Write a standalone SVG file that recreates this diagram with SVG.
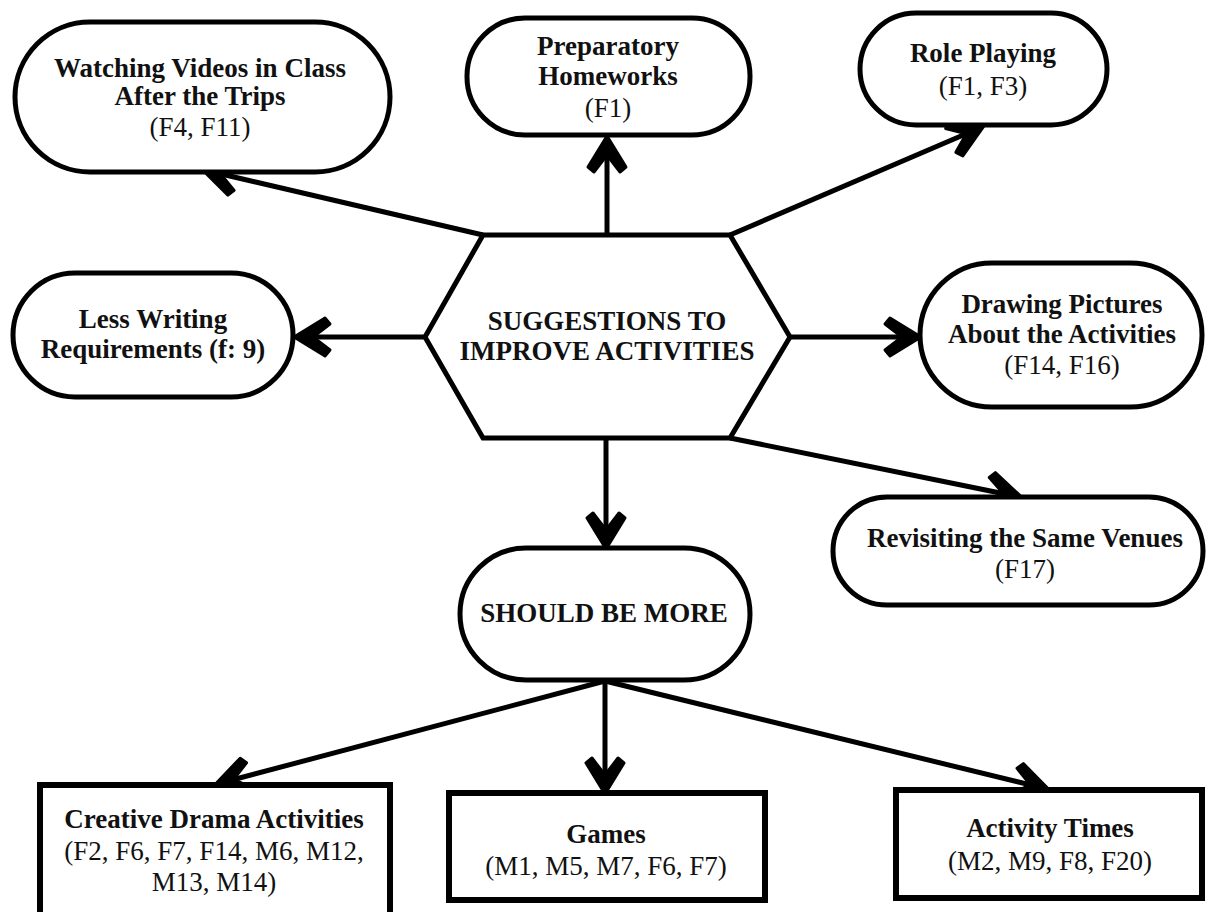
<svg xmlns="http://www.w3.org/2000/svg" width="1206" height="912" viewBox="0 0 1206 912">
<style>
.bg{fill:#fff}
.node{fill:#fff;stroke:#000;stroke-width:5}
.box{fill:#fff;stroke:#000;stroke-width:6}
.conn{stroke:#000;stroke-width:5;fill:none}
text{font-family:"Liberation Serif","Times New Roman",serif;font-size:27px;fill:#111;text-anchor:middle}
.b{font-weight:bold}
</style>
<defs>
<marker id="arr" markerUnits="userSpaceOnUse" markerWidth="50" markerHeight="50" refX="0" refY="0" orient="auto" overflow="visible">
<path d="M2,0 L-29,-19 L-34,-13 L-17,0 L-34,13 L-29,19 Z" fill="#000" stroke="#000" stroke-width="3" stroke-linejoin="round"/>
</marker>
</defs>
<rect class="bg" x="0" y="0" width="1206" height="912"/>
<g id="connectors">
<line class="conn" x1="607" y1="235" x2="607" y2="138" marker-end="url(#arr)"/>
<line class="conn" x1="483" y1="235" x2="204" y2="170" marker-end="url(#arr)"/>
<line class="conn" x1="730" y1="235" x2="982" y2="127" marker-end="url(#arr)"/>
<line class="conn" x1="425" y1="337" x2="296" y2="337" marker-end="url(#arr)"/>
<line class="conn" x1="790" y1="337" x2="919" y2="337" marker-end="url(#arr)"/>
<line class="conn" x1="730" y1="438" x2="1020" y2="497" marker-end="url(#arr)"/>
<line class="conn" x1="606" y1="438" x2="606" y2="547" marker-end="url(#arr)"/>
<line class="conn" x1="605" y1="681" x2="217" y2="784" marker-end="url(#arr)"/>
<line class="conn" x1="605" y1="681" x2="605" y2="792" marker-end="url(#arr)"/>
<line class="conn" x1="605" y1="681" x2="1047" y2="789" marker-end="url(#arr)"/>
</g>
<g id="center">
<polygon class="node" points="483,235 730,235 790,337 730,438 483,438 425,337"/>
<text class="b" x="607" y="330">SUGGESTIONS TO</text>
<text class="b" x="607" y="360">IMPROVE ACTIVITIES</text>
</g>
<g id="watching">
<rect class="node" x="15" y="22" width="375" height="150" rx="75"/>
<text class="b" x="200" y="77">Watching Videos in Class</text>
<text class="b" x="200" y="105">After the Trips</text>
<text x="200" y="136">(F4, F11)</text>
</g>
<g id="preparatory">
<rect class="node" x="467" y="18" width="283" height="117" rx="58"/>
<text class="b" x="608" y="55">Preparatory</text>
<text class="b" x="608" y="85">Homeworks</text>
<text x="608" y="117">(F1)</text>
</g>
<g id="roleplaying">
<rect class="node" x="860" y="13" width="247" height="112" rx="56"/>
<text class="b" x="983" y="62">Role Playing</text>
<text x="983" y="95">(F1, F3)</text>
</g>
<g id="lesswriting">
<rect class="node" x="13" y="273" width="280" height="124" rx="62"/>
<text class="b" x="153" y="328">Less Writing</text>
<text class="b" x="153" y="358">Requirements (f: 9)</text>
</g>
<g id="drawing">
<rect class="node" x="920" y="263" width="282" height="144" rx="72"/>
<text class="b" x="1062" y="313">Drawing Pictures</text>
<text class="b" x="1062" y="343">About the Activities</text>
<text x="1062" y="374">(F14, F16)</text>
</g>
<g id="revisiting">
<rect class="node" x="833" y="497" width="370" height="108" rx="54"/>
<text class="b" x="1025" y="547">Revisiting the Same Venues</text>
<text x="1025" y="578">(F17)</text>
</g>
<g id="shouldbemore">
<rect class="node" x="460" y="548" width="290" height="132" rx="66"/>
<text class="b" x="604" y="622">SHOULD BE MORE</text>
</g>
<g id="creativedrama">
<rect class="box" x="40" y="785" width="350" height="130"/>
<text class="b" x="214" y="828">Creative Drama Activities</text>
<text x="214" y="860">(F2, F6, F7, F14, M6, M12,</text>
<text x="214" y="891">M13, M14)</text>
</g>
<g id="games">
<rect class="box" x="449" y="793" width="316" height="107"/>
<text class="b" x="606" y="843">Games</text>
<text x="606" y="875">(M1, M5, M7, F6, F7)</text>
</g>
<g id="activitytimes">
<rect class="box" x="896" y="790" width="306" height="108"/>
<text class="b" x="1050" y="837">Activity Times</text>
<text x="1050" y="870">(M2, M9, F8, F20)</text>
</g>
</svg>
